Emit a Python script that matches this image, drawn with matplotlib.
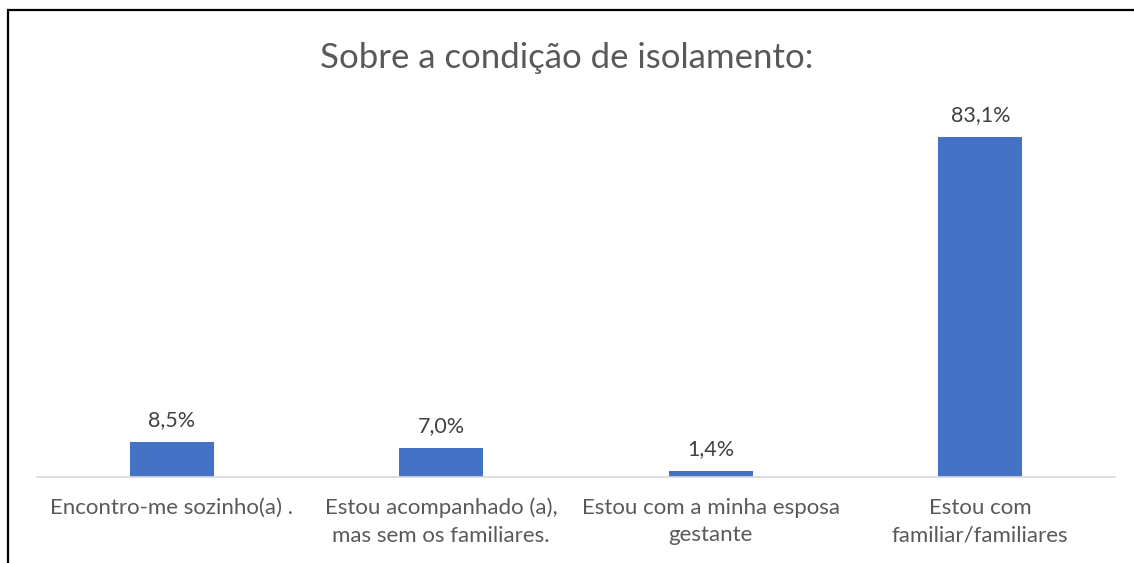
import matplotlib.pyplot as plt
from matplotlib.patches import Rectangle

# ---------------------------------------------------------------------------
# Data
# ---------------------------------------------------------------------------
categories = [
    "Encontro-me sozinho(a) .",
    "Estou acompanhado (a),\nmas sem os familiares.",
    "Estou com a minha esposa\ngestante",
    "Estou com\nfamiliar/familiares",
]
values = [8.5, 7.0, 1.4, 83.1]
value_labels = ["8,5%", "7,0%", "1,4%", "83,1%"]
title = "Sobre a condição de isolamento:"

# ---------------------------------------------------------------------------
# Style
# ---------------------------------------------------------------------------
plt.rcParams.update({
    "font.family": ["Lato", "DejaVu Sans"],
})
BAR_COLOR = "#4472C4"
TEXT_COLOR = "#595959"
LABEL_COLOR = "#404040"

W, H = 1134, 563
fig = plt.figure(figsize=(W / 100, H / 100), dpi=100)

# chart frame (clipped on right and bottom like the screenshot)
fig.patches.append(Rectangle((8 / W, -0.05), 1.1, 1 - 10 / H + 0.05,
                             transform=fig.transFigure, fill=False,
                             edgecolor="black", lw=1.6))

ax = fig.add_axes([37 / W, 1 - 477 / H, (1115 - 37) / W, (477 - 109) / H])
x = range(len(categories))
ax.bar(x, values, width=0.31, color=BAR_COLOR, zorder=2)
ax.set_xlim(-0.5, len(categories) - 0.5)
ax.set_ylim(0, 90)

for xi, v, lbl in zip(x, values, value_labels):
    ax.annotate(lbl, (xi, v), xytext=(0, 9), textcoords="offset points",
                ha="center", va="bottom", fontsize=15.5, color=LABEL_COLOR)

ax.set_xticks(list(x))
ax.set_xticklabels(categories, fontsize=16, color=TEXT_COLOR, linespacing=1.45)
ax.tick_params(axis="x", length=0, pad=15)
ax.set_yticks([])
for side in ["top", "right", "left"]:
    ax.spines[side].set_visible(False)
ax.spines["bottom"].set_color("#d9d9d9")
ax.spines["bottom"].set_linewidth(1.2)

fig.text(0.5, 1 - 58 / H, title, ha="center", va="center",
         fontsize=25, color=TEXT_COLOR)

fig.savefig("out.png", dpi=100)
